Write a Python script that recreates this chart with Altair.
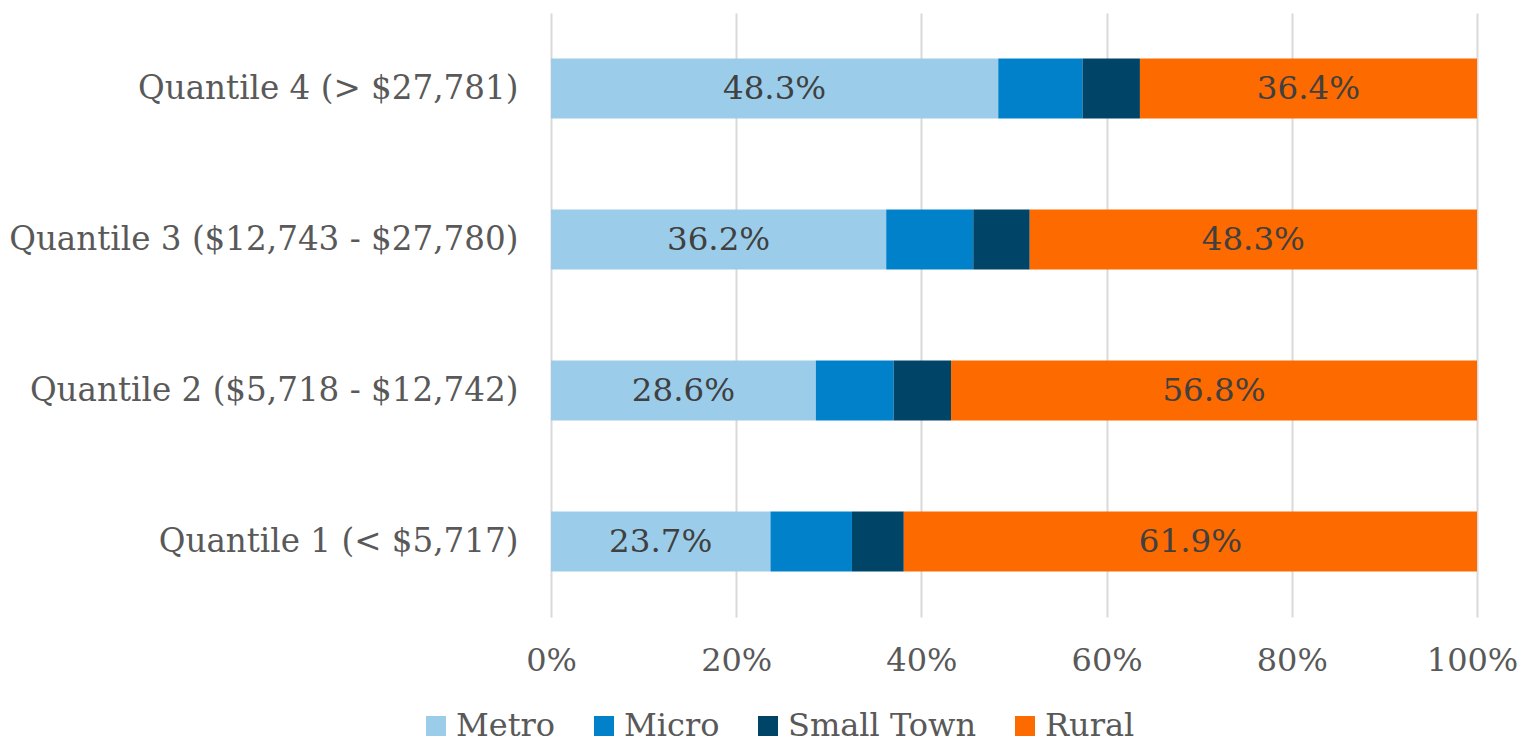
import altair as alt
import pandas as pd

quantiles = ["Quantile 4 (> $27,781)", "Quantile 3 ($12,743 - $27,780)",
             "Quantile 2 ($5,718 - $12,742)", "Quantile 1 (< $5,717)"]
series = ["Metro", "Micro", "Small Town", "Rural"]
metro = [48.3, 36.2, 28.6, 23.7]
micro = [9.1, 9.4, 8.4, 8.8]
small_town = [6.2, 6.1, 6.2, 5.6]
rural = [36.4, 48.3, 56.8, 61.9]
colors = ["#9BCDEA", "#0081CA", "#004468", "#FC6A00"]

rows = []
for i, q in enumerate(quantiles):
    for j, (s, vals) in enumerate(zip(series, [metro, micro, small_town, rural])):
        rows.append({"q": q, "series": s, "value": vals[i], "order": j,
                     "show": s in ("Metro", "Rural")})
df = pd.DataFrame(rows)

FONT = "Georgia, 'DejaVu Serif', serif"

base = alt.Chart(df).transform_stack(
    stack="value", groupby=["q"], as_=["start", "end"],
    sort=[alt.SortField("order", order="ascending")]
)

bars = base.mark_bar(size=60).encode(
    y=alt.Y("q:N", sort=quantiles, title=None,
            scale=alt.Scale(paddingInner=0.6, paddingOuter=0.3),
            axis=alt.Axis(labelFont=FONT, labelFontSize=32.6, labelColor="#595959",
                          labelPadding=33, ticks=False, domain=False, grid=False,
                          labelLimit=700)),
    x=alt.X("start:Q", title=None,
            scale=alt.Scale(domain=[0, 100], nice=False),
            axis=alt.Axis(values=[0, 20, 40, 60, 80, 100],
                          labelExpr="datum.value + '%'",
                          labelFont=FONT, labelFontSize=32, labelColor="#595959",
                          labelPadding=28, ticks=False, domain=False,
                          labelOffset={"condition": {"test": "datum.value == 100", "value": -5},
                                       "value": 0},
                          grid=True, gridColor="#D9D9D9", gridWidth=2,
                          labelFlush=False)),
    x2="end:Q",
    color=alt.Color("series:N", sort=series,
                    scale=alt.Scale(domain=series, range=colors),
                    legend=alt.Legend(title=None, orient="none", direction="horizontal",
                                      legendX=-131, legendY=697,
                                      symbolType="square", symbolSize=400,
                                      symbolStrokeWidth=0, symbolOpacity=1,
                                      labelFont=FONT, labelFontSize=32,
                                      labelColor="#595959", labelOffset=4,
                                      labelLimit=400,
                                      columnPadding=32, padding=0)),
)

labels = base.transform_filter("datum.show").transform_calculate(
    mid="(datum.start + datum.end) / 2",
    txt="format(datum.value, '.1f') + '%'"
).mark_text(font=FONT, fontSize=32.5, color="#404040", baseline="middle").encode(
    y=alt.Y("q:N", sort=quantiles),
    x=alt.X("mid:Q"),
    text="txt:N",
)

chart = alt.layer(bars, labels).properties(
    width=926, height=604, autosize="none",
    padding={"left": 543, "top": 5, "right": 41, "bottom": 124},
).configure_view(stroke=None)

chart.save("out.html", embed_options={"renderer": "svg", "actions": False})
